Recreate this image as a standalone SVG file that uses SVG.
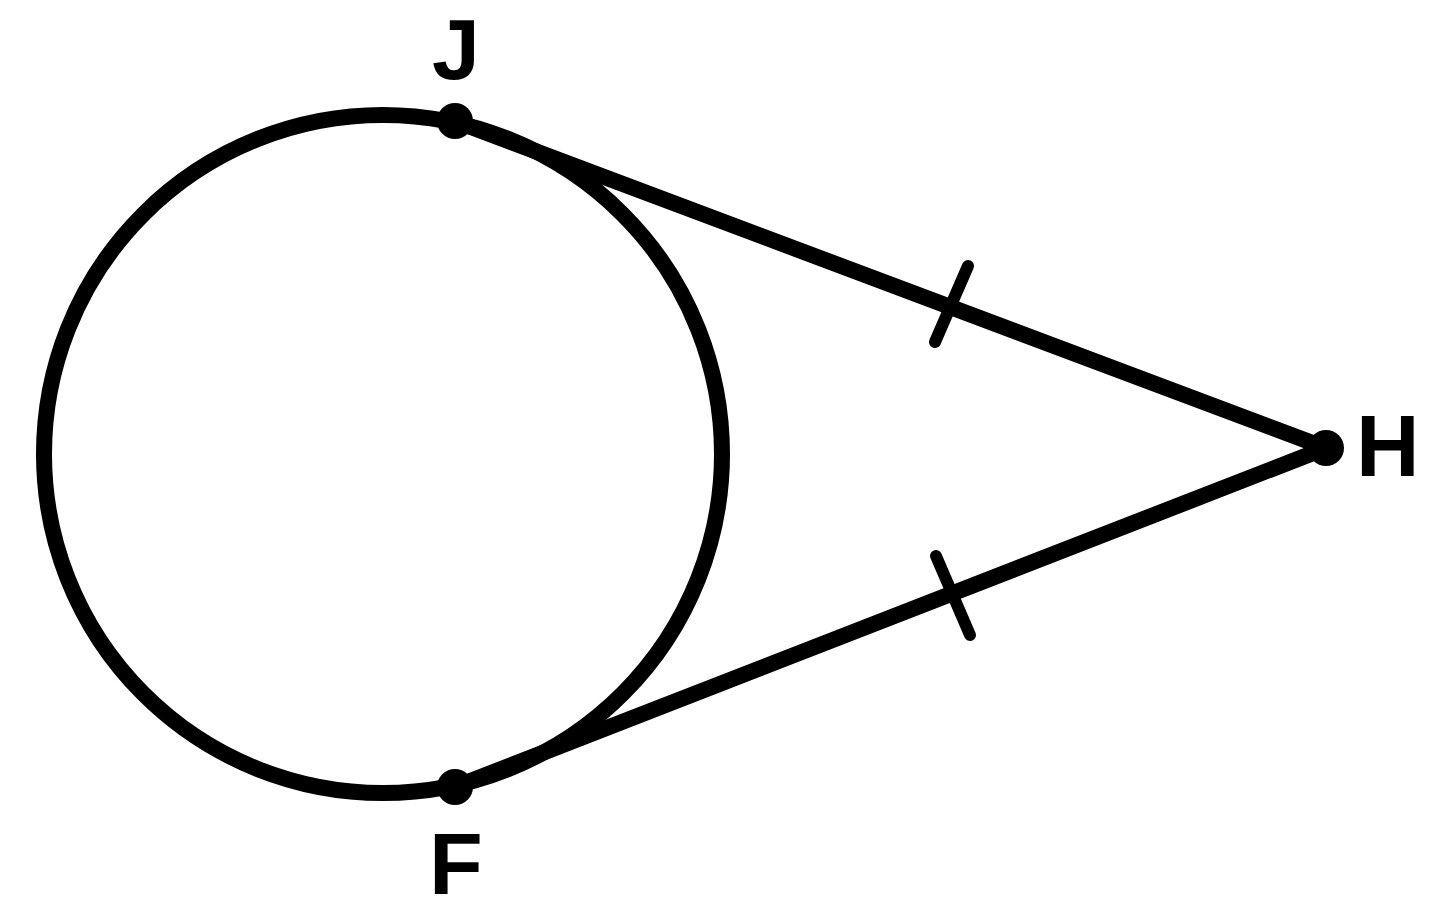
<svg xmlns="http://www.w3.org/2000/svg" width="1440" height="916" viewBox="0 0 1440 916">
<style>
.s{fill:none;stroke:#000;stroke-width:16;stroke-linecap:round}
.k{fill:none;stroke:#000;stroke-width:12;stroke-linecap:round}
.d{fill:#000}
.t{font-family:"Liberation Sans",Arial,sans-serif;font-weight:bold;font-size:88px;fill:#000}
</style>
<rect width="1440" height="916" fill="#fff"/>
<g id="circle"><circle class="s" cx="383" cy="454" r="339"/></g>
<g id="connectors">
<line class="s" x1="455" y1="121" x2="1326" y2="448"/>
<line class="s" x1="455" y1="787" x2="1326" y2="448"/>
<line class="k" x1="935" y1="342" x2="968" y2="266"/>
<line class="k" x1="936" y1="556" x2="970" y2="635"/>
</g>
<g id="J"><circle class="d" cx="455" cy="121" r="18"/><text class="t" x="456" y="79" text-anchor="middle" style="font-size:86px">J</text></g>
<g id="F"><circle class="d" cx="455" cy="787" r="18"/><text class="t" x="456" y="894" text-anchor="middle">F</text></g>
<g id="H"><circle class="d" cx="1326" cy="448" r="18"/><text class="t" x="1356" y="476">H</text></g>
</svg>
